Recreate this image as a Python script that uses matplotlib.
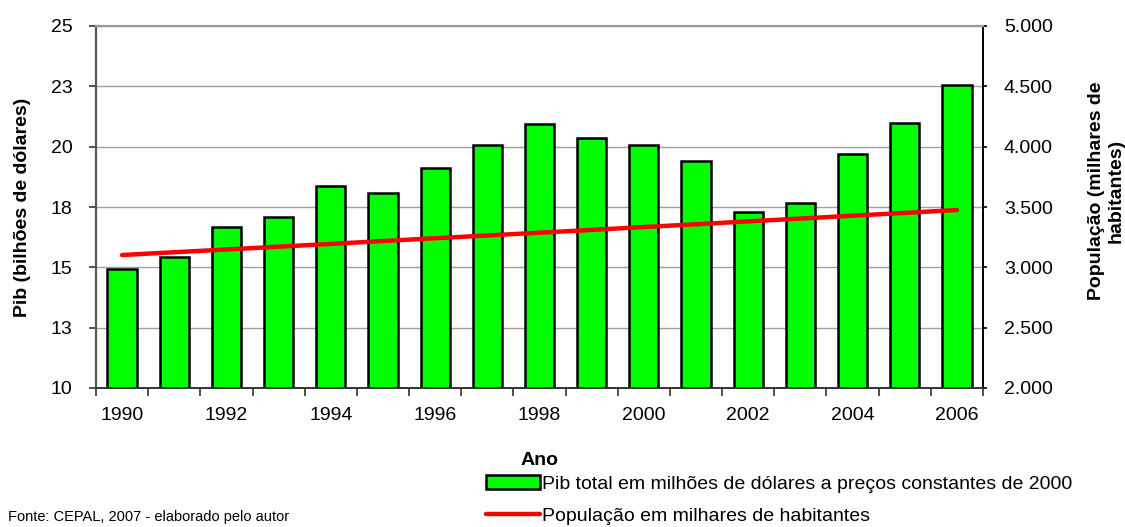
import numpy as np
import matplotlib.pyplot as plt
from matplotlib.ticker import FixedLocator, NullFormatter

plt.rcParams['font.family'] = ['Liberation Sans', 'DejaVu Sans']

# dados
anos = list(range(1990, 2007))
pib = [14.92, 15.44, 16.66, 17.10, 18.36, 18.09, 19.10, 20.06, 20.95,
       20.37, 20.08, 19.39, 17.28, 17.65, 19.71, 21.00, 22.57]
populacao = [3102, 3125, 3148, 3171, 3194, 3218, 3241, 3264, 3287,
             3310, 3334, 3357, 3381, 3404, 3428, 3451, 3475]

pib_ticks = [10, 12.5, 15, 17.5, 20, 22.5, 25]
pib_tick_labels = ['10', '13', '15', '18', '20', '23', '25']
pop_ticks = [2000, 2500, 3000, 3500, 4000, 4500, 5000]
pop_tick_labels = ['2.000', '2.500', '3.000', '3.500', '4.000', '4.500', '5.000']

fs = 14

fig = plt.figure(figsize=(11.25, 5.27), dpi=100)
ax = fig.add_axes([96 / 1125, 1 - 388 / 527, (983 - 96) / 1125, (388 - 26) / 527])
ax2 = ax.twinx()

x = np.arange(len(anos))
barras = ax.bar(x, pib, width=0.56, color='#00ff00', edgecolor='black',
                linewidth=1.8, zorder=3,
                label='Pib total em milhões de dólares a preços constantes de 2000')
linha, = ax2.plot(x, populacao, color='#ff0000', linewidth=3.2,
                  solid_capstyle='round', zorder=4,
                  label='População em milhares de habitantes')
ax2.set_zorder(ax.get_zorder() + 1)
ax2.patch.set_visible(False)

ax.set_xlim(-0.5, len(anos) - 0.5)
ax.set_ylim(10, 25)
ax2.set_ylim(2000, 5000)

ax.set_yticks(pib_ticks)
ax.set_yticklabels(pib_tick_labels)
ax2.set_yticks(pop_ticks)
ax2.set_yticklabels(pop_tick_labels)

# ticks entre categorias, rotulos a cada dois anos
ax.xaxis.set_major_locator(FixedLocator(x[::2]))
ax.set_xticklabels([str(a) for a in anos[::2]])
ax.xaxis.set_minor_locator(FixedLocator(np.arange(-0.5, len(anos), 1)))
ax.xaxis.set_minor_formatter(NullFormatter())
ax.tick_params(axis='x', which='major', length=0, pad=14, labelsize=fs)
ax.tick_params(axis='x', which='minor', length=6, width=1.2, color='#333333')
ax.tick_params(axis='y', length=5, width=1.2, color='#333333', labelsize=fs, pad=12)
ax2.tick_params(axis='y', length=3, width=1.2, color='black', labelsize=fs, pad=12)

ax.yaxis.grid(True, color='#a0a0a0', linewidth=1)
ax.set_axisbelow(True)

for a in (ax, ax2):
    a.spines['top'].set_color('#999999')
    a.spines['top'].set_linewidth(1.5)
    a.spines['left'].set_color('#555555')
    a.spines['left'].set_linewidth(1.5)
    a.spines['bottom'].set_color('#333333')
    a.spines['bottom'].set_linewidth(1.2)
    a.spines['right'].set_color('black')
    a.spines['right'].set_linewidth(1.2)

ax.set_ylabel('Pib (bilhões de dólares)', fontsize=fs, fontweight='bold', labelpad=14)
ax2.set_ylabel('População (milhares de\nhabitantes)', fontsize=fs, fontweight='bold',
               linespacing=1.15, va='center', ha='center')
ax2.yaxis.set_label_coords(1.139, 0.545)
ax.set_xlabel('Ano', fontsize=fs, fontweight='bold', labelpad=20)

fig.legend(handles=[barras, linha], loc='upper left',
           bbox_to_anchor=(472 / 1125, 1 - 461 / 527), frameon=False,
           fontsize=fs, handlelength=2.8, handleheight=0.75,
           handletextpad=0.1, labelspacing=0.75, borderpad=0.2)

fig.text(8 / 1125, 1 - 517 / 527, 'Fonte: CEPAL, 2007 - elaborado pelo autor',
         fontsize=10.5, va='center', ha='left')

fig.savefig('out.png', dpi=100)
